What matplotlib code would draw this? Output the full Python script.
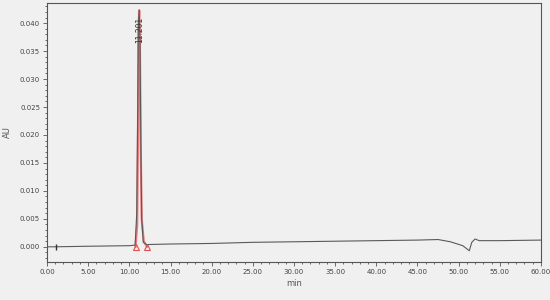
import matplotlib.pyplot as plt
from matplotlib.ticker import MultipleLocator, AutoMinorLocator

# chromatogram trace (min, AU)
time = [0.0, 1.0, 5.0, 10.0, 10.7, 10.9, 11.0, 11.1, 11.2, 11.3, 11.4, 11.5, 11.7, 12.1,
        15.0, 20.0, 25.0, 30.0, 35.0, 40.0, 45.0, 47.5, 49.0, 50.5, 51.3, 51.6, 52.0,
        52.5, 55.0, 60.0]
au = [0.0, 0.0, 0.0001, 0.0002, 0.0003, 0.006, 0.022, 0.040, 0.0423, 0.036, 0.018, 0.005,
      0.0008, 0.0004, 0.0005, 0.0006, 0.0008, 0.0009, 0.001, 0.0011, 0.0012, 0.0013,
      0.0009, 0.0002, -0.0007, 0.0008, 0.0014, 0.0011, 0.0011, 0.0012]

# integrated peak (drawn in red)
peak_time = [10.75, 10.95, 11.05, 11.12, 11.2, 11.28, 11.38, 11.5, 11.75, 12.15]
peak_au = [0.0, 0.004, 0.020, 0.039, 0.0423, 0.037, 0.018, 0.005, 0.0010, 0.0]
peak_bounds_t = [10.75, 12.15]
peak_bounds_y = [-0.0001, 0.0]
peak_label = '11.201'

bg = '#f0f0f0'
fig = plt.figure(figsize=(5.5, 3), dpi=100, facecolor=bg)
ax = fig.add_axes([0.0855, 0.127, 0.898, 0.863], facecolor=bg)

ax.plot(peak_time, peak_au, color='#e87878', lw=1.6, zorder=2)
ax.plot(time, au, color='#5a5a5a', lw=0.8, zorder=3)
ax.plot(peak_bounds_t, peak_bounds_y, ls='none', marker='^', ms=5, mfc='none',
        mec='#e05050', mew=0.8, zorder=4)
ax.plot([1.1], [0.0], marker='|', ms=5, color='#333333', mew=1.0, zorder=4)
ax.text(11.2, 0.0388, peak_label, rotation=90, ha='center', va='center',
        fontsize=5.5, color='#333333', zorder=5)

ax.set_xlim(0, 60)
ax.set_ylim(-0.0027, 0.0436)
ax.xaxis.set_major_locator(MultipleLocator(5))
ax.xaxis.set_minor_locator(AutoMinorLocator(5))
ax.yaxis.set_major_locator(MultipleLocator(0.005))
ax.yaxis.set_minor_locator(AutoMinorLocator(5))
ax.xaxis.set_major_formatter(lambda v, p: f'{v:.2f}')
ax.yaxis.set_major_formatter(lambda v, p: f'{v:.3f}')
ax.tick_params(which='both', labelsize=5, colors='#555555', labelcolor='#444444',
               width=0.6)
ax.tick_params(which='major', length=3, pad=2)
ax.tick_params(which='minor', length=1.5)
for s in ax.spines.values():
    s.set_color('#555555')
    s.set_linewidth(0.8)

ax.set_xlabel('min', fontsize=6, color='#555555', labelpad=3)
ax.set_ylabel('AU', fontsize=6, color='#555555', labelpad=6)

fig.savefig('out.png', dpi=100, facecolor=bg)
